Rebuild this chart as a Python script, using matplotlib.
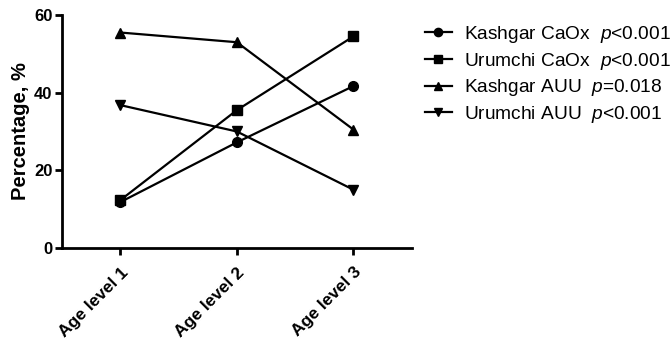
import matplotlib
matplotlib.use('Agg')
import matplotlib.pyplot as plt

plt.rcParams['font.family'] = ['Liberation Sans', 'DejaVu Sans']
plt.rcParams['mathtext.fontset'] = 'custom'
plt.rcParams['mathtext.it'] = 'Liberation Sans:italic'
plt.rcParams['mathtext.rm'] = 'Liberation Sans'

# data
age_levels = ['Age level 1', 'Age level 2', 'Age level 3']
kashgar_caox = [11.8, 27.2, 41.7]
urumchi_caox = [12.3, 35.5, 54.5]
kashgar_auu = [55.5, 53.0, 30.5]
urumchi_auu = [36.8, 30.0, 15.0]

series_labels = [
    'Kashgar CaOx  $p$<0.001',
    'Urumchi CaOx  $p$<0.001',
    'Kashgar AUU  $p$=0.018',
    'Urumchi AUU  $p$<0.001',
]
markers = ['o', 's', '^', 'v']

fig = plt.figure(figsize=(6.7, 3.42), dpi=100)
ax = fig.add_axes([0.0925, 0.275, 0.522, 0.681])

x = [1, 2, 3]
for vals, lab, mk in zip([kashgar_caox, urumchi_caox, kashgar_auu, urumchi_auu],
                         series_labels, markers):
    ax.plot(x, vals, color='black', lw=1.6, marker=mk, markersize=7,
            label=lab, clip_on=False)

ax.set_xlim(0.5, 3.5)
ax.set_ylim(0, 60)
ax.set_yticks([0, 20, 40, 60])
ax.set_xticks(x)
ax.set_xticklabels(age_levels, rotation=45, ha='right', rotation_mode='anchor',
                   fontweight='bold', fontsize=12.5)
for t in ax.get_yticklabels():
    t.set_fontweight('bold')
    t.set_fontsize(12)
ax.set_ylabel('Percentage, %', fontweight='bold', fontsize=14.5, labelpad=3)

for s in ['top', 'right']:
    ax.spines[s].set_visible(False)
for s in ['left', 'bottom']:
    ax.spines[s].set_linewidth(2)
ax.tick_params(width=2, length=5, direction='out', pad=2)
ax.tick_params(axis='x', pad=7)

fig.legend(loc='upper left', bbox_to_anchor=(0.634, 0.93), frameon=False,
           fontsize=13.8, handlelength=1.4, handletextpad=0.67, labelspacing=0.3,
           borderaxespad=0, borderpad=0, markerscale=0.85)

fig.savefig('out.png', dpi=100)
